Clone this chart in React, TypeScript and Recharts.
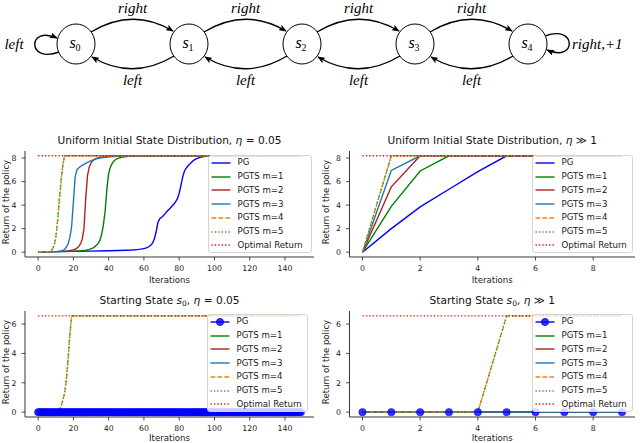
import React from 'react';
import { LineChart, Line, XAxis, YAxis, Legend } from 'recharts';

type Pt = [number, number];

// ---------- Series names ----------
const SERIES_NAMES = ['PG', 'PGTS m=1', 'PGTS m=2', 'PGTS m=3', 'PGTS m=4', 'PGTS m=5', 'Optimal Return'];

// ---------- Uniform initial state, eta = 0.05 (iterations 0..149) ----------
const UL_PG: Pt[] = [[0,0.03],[10,0.05],[20,0.07],[30,0.09],[40,0.12],[45,0.14],[50,0.17],[53,0.19],[55,0.21],[57,0.24],[59,0.28],[60,0.31],[61,0.35],[62,0.4],[63,0.48],[64,0.6],[65,0.8],[66,1.15],[67,1.8],[68,2.55],[69,2.85],[70,2.97],[71,3.1],[72,3.28],[73,3.45],[74,3.6],[75,3.75],[76,3.92],[77,4.1],[78,4.3],[79,4.55],[80,5.0],[81,5.7],[82,6.4],[83,6.9],[84,7.15],[85,7.35],[86,7.5],[87,7.65],[88,7.78],[89,7.88],[90,7.96],[91,8.02],[92,8.07],[93,8.1],[94,8.13],[95,8.15],[96,8.17],[98,8.19],[149,8.19]];
const UL_M1: Pt[] = [[0,0.03],[10,0.05],[20,0.08],[24,0.12],[27,0.17],[29,0.24],[31,0.35],[32,0.45],[33,0.58],[34,0.75],[35,1.0],[36,1.5],[37,2.3],[38,3.5],[39,5.4],[40,6.7],[41,7.25],[42,7.55],[43,7.75],[44,7.88],[45,7.96],[46,8.02],[48,8.09],[50,8.13],[54,8.17],[58,8.19],[149,8.19]];
const UL_M2: Pt[] = [[0,0.03],[10,0.05],[14,0.07],[17,0.11],[19,0.16],[21,0.26],[22,0.34],[23,0.48],[24,0.7],[25,1.1],[26,2.0],[27,4.6],[28,6.5],[29,7.25],[30,7.58],[31,7.78],[32,7.9],[33,7.97],[34,8.02],[36,8.09],[38,8.14],[41,8.17],[45,8.19],[149,8.19]];
const UL_M3: Pt[] = [[0,0.03],[8,0.05],[11,0.07],[13,0.11],[14,0.16],[15,0.25],[16,0.42],[17,0.72],[18,1.25],[19,2.2],[20,4.3],[21,6.4],[22,7.0],[23,7.15],[24,7.28],[25,7.38],[26,7.47],[27,7.55],[28,7.63],[29,7.7],[30,7.77],[31,7.83],[32,7.88],[33,7.93],[34,7.97],[36,8.02],[38,8.06],[41,8.1],[45,8.14],[50,8.17],[56,8.19],[149,8.19]];
const UL_M4: Pt[] = [[0,0.03],[6,0.05],[7,0.1],[8,0.22],[9,0.55],[10,1.2],[11,2.6],[12,4.4],[13,6.0],[14,7.4],[15,8.19],[149,8.19]];
const UL_M5: Pt[] = [[0,0.03],[6,0.05],[7,0.1],[8,0.22],[9,0.55],[10,1.2],[11,2.6],[12,4.4],[13,6.0],[14,7.4],[15,8.19],[149,8.19]];
const UL_OPT: Pt[] = [[0,8.19],[149,8.19]];

// ---------- Uniform initial state, eta >> 1 (iterations 0..9) ----------
const UR_PG: Pt[] = [[0,0],[1,2.0],[2,3.85],[3,5.35],[4,6.85],[5,8.19],[9,8.19]];
const UR_M1: Pt[] = [[0,0],[1,3.9],[2,6.9],[3,8.19],[9,8.19]];
const UR_M2: Pt[] = [[0,0],[1,5.55],[2,8.19],[9,8.19]];
const UR_M3: Pt[] = [[0,0],[1,6.95],[2,8.19],[9,8.19]];
const UR_M4: Pt[] = [[0,0],[1,8.19],[9,8.19]];
const UR_M5: Pt[] = [[0,0],[1,8.19],[9,8.19]];
const UR_OPT: Pt[] = [[0,8.19],[9,8.19]];

// ---------- Starting state s0, eta = 0.05 (iterations 0..149) ----------
const BL_PG_VALUES: number[] = [
  0,0,0,0,0,0,0,0,0,0, 0,0,0,0,0,0,0,0,0,0, 0,0,0,0,0,0,0,0,0,0,
  0,0,0,0,0,0,0,0,0,0, 0,0,0,0,0,0,0,0,0,0, 0,0,0,0,0,0,0,0,0,0,
  0,0,0,0,0,0,0,0,0,0, 0,0,0,0,0,0,0,0,0,0, 0,0,0,0,0,0,0,0,0,0,
  0,0,0,0,0,0,0,0,0,0, 0,0,0,0,0,0,0,0,0,0, 0,0,0,0,0,0,0,0,0,0,
  0,0,0,0,0,0,0,0,0,0, 0,0,0,0,0,0,0,0,0,0, 0,0,0,0,0,0,0,0,0,0,
];
const BL_M1: Pt[] = [[0,0],[149,0]];
const BL_M2: Pt[] = [[0,0],[149,0]];
const BL_M3: Pt[] = [[0,0],[149,0]];
const BL_M4: Pt[] = [[0,0],[11,0],[12,0.1],[13,0.4],[14,0.8],[15,1.3],[16,2.2],[17,3.6],[18,5.3],[19,6.56],[149,6.56]];
const BL_M5: Pt[] = [[0,0],[11,0],[12,0.1],[13,0.4],[14,0.8],[15,1.3],[16,2.2],[17,3.6],[18,5.3],[19,6.56],[149,6.56]];
const BL_OPT: Pt[] = [[0,6.56],[149,6.56]];

// ---------- Starting state s0, eta >> 1 (iterations 0..9) ----------
const BR_PG_VALUES: number[] = [0,0,0,0,0,0,0,0,0,0];
const BR_M1: Pt[] = [[0,0],[9,0]];
const BR_M2: Pt[] = [[0,0],[9,0]];
const BR_M3: Pt[] = [[0,0],[9,0]];
const BR_M4: Pt[] = [[0,0],[4,0],[5,6.56],[9,6.56]];
const BR_M5: Pt[] = [[0,0],[4,0],[5,6.56],[9,6.56]];
const BR_OPT: Pt[] = [[0,6.56],[9,6.56]];

// ---------- Ticks ----------
const X_TICKS_LONG = [0, 20, 40, 60, 80, 100, 120, 140];
const X_TICKS_SHORT = [0, 2, 4, 6, 8];
const Y_TICKS_UNIFORM = [0, 2, 4, 6, 8];
const Y_TICKS_S0 = [0, 2, 4, 6];

// ---------- Styles ----------
const FONT = '"DejaVu Sans", Verdana, sans-serif';
const SERIF = '"Liberation Serif", "DejaVu Serif", serif';
const COLORS = ['#0000ff', '#008000', '#b22222', '#1f77b4', '#ff7f0e', '#2ca02c', '#ff0000'];
const DASHES: (string | undefined)[] = [undefined, undefined, undefined, undefined, '4.8 2.1', '1.3 2.1', '1.3 2.1'];
const TICK_FS = 7.8;
const LABEL_FS = 8.6;
const LEGEND_FS = 8.6;
const TITLE_FS = 10.6;

const toPts = (pts: Pt[]) => pts.map(([x, y]) => ({ x, y }));
const fromValues = (vals: number[]) => vals.map((y, i) => ({ x: i, y }));

type SeriesDef = { name: string; pts: { x: number; y: number }[]; color: string; dash?: string; marker?: boolean };

function makeSeries(ptsList: { x: number; y: number }[][], markerPG: boolean): SeriesDef[] {
  return ptsList.map((pts, i) => ({
    name: SERIES_NAMES[i],
    pts,
    color: COLORS[i],
    dash: DASHES[i],
    marker: markerPG && i === 0,
  }));
}

function LegendBox({ series, width }: { series: SeriesDef[]; width: number }) {
  return (
    <div
      style={{
        width,
        boxSizing: 'border-box',
        background: 'rgba(255,255,255,0.8)',
        border: '1px solid #d4d4d4',
        borderRadius: 3,
        fontFamily: FONT,
        fontSize: LEGEND_FS,
        color: '#1a1a1a',
        paddingLeft: 2,
      }}
    >
      {series.map((s) => (
        <div key={s.name} style={{ display: 'flex', alignItems: 'center', height: 13.75, whiteSpace: 'nowrap' }}>
          <svg width={20} height={10} style={{ display: 'block', flex: 'none' }}>
            <line x1={0.5} x2={19.5} y1={5} y2={5} stroke={s.color} strokeWidth={1.4} strokeDasharray={s.dash} />
            {s.marker && <circle cx={10} cy={5} r={3.6} fill={s.color} fillOpacity={0.8} stroke={s.color} strokeWidth={0.8} />}
          </svg>
          <span style={{ marginLeft: 6.5, lineHeight: '11px' }}>{s.name}</span>
        </div>
      ))}
    </div>
  );
}

type PanelProps = {
  left: number;
  top: number;
  width: number;
  height: number;
  margin: { top: number; right: number; left: number; bottom: number };
  yAxisWidth: number;
  xAxisHeight: number;
  xDomain: [number, number];
  xTicks: number[];
  yDomain: [number, number];
  yTicks: number[];
  series: SeriesDef[];
  legend: { left: number; top: number; width: number };
  title: React.ReactNode;
};

function Panel(p: PanelProps) {
  const plotL = p.margin.left + p.yAxisWidth;
  const plotR = p.width - p.margin.right;
  const plotT = p.margin.top;
  const plotB = p.height - p.margin.bottom - p.xAxisHeight;
  const cx = (plotL + plotR) / 2;
  const cy = (plotT + plotB) / 2;
  const axisStroke = { stroke: '#222', strokeWidth: 0.9 };
  const tickStyle = { fontSize: TICK_FS, fill: '#222', fontFamily: FONT };
  return (
    <div style={{ position: 'absolute', left: p.left, top: p.top, width: p.width, height: p.height }}>
      <div
        style={{
          position: 'absolute',
          left: plotL - 30,
          width: plotR - plotL + 60,
          top: plotT - 18,
          height: 14,
          lineHeight: '14px',
          textAlign: 'center',
          fontFamily: FONT,
          fontSize: TITLE_FS,
          color: '#111',
          whiteSpace: 'nowrap',
          zIndex: 2,
        }}
      >
        {p.title}
      </div>
      <LineChart width={p.width} height={p.height} margin={p.margin}>
        <XAxis
          xAxisId="b"
          dataKey="x"
          type="number"
          domain={p.xDomain}
          ticks={p.xTicks}
          allowDataOverflow
          height={p.xAxisHeight}
          tickSize={3.5}
          tickMargin={4.5}
          tick={tickStyle}
          axisLine={axisStroke}
          tickLine={{ stroke: '#222', strokeWidth: 0.8 }}
          label={() => (
            <text x={cx} y={p.height - p.margin.bottom - 2.5} textAnchor="middle" fontFamily={FONT} fontSize={LABEL_FS} fill="#222">
              Iterations
            </text>
          )}
        />
        <XAxis xAxisId="t" orientation="top" type="number" domain={p.xDomain} allowDataOverflow height={0} tick={false} tickLine={false} axisLine={axisStroke} />
        <YAxis
          yAxisId="l"
          type="number"
          domain={p.yDomain}
          ticks={p.yTicks}
          allowDataOverflow
          width={p.yAxisWidth}
          tickSize={3.5}
          tickMargin={5}
          tick={tickStyle}
          axisLine={axisStroke}
          tickLine={{ stroke: '#222', strokeWidth: 0.8 }}
          label={() => (
            <text
              x={p.margin.left + 5.5}
              y={cy - 2}
              transform={`rotate(-90 ${p.margin.left + 5.5} ${cy - 2})`}
              textAnchor="middle"
              dominantBaseline="central"
              fontFamily={FONT}
              fontSize={LABEL_FS}
              fill="#222"
            >
              Return of the policy
            </text>
          )}
        />
        <YAxis yAxisId="r" orientation="right" type="number" domain={p.yDomain} allowDataOverflow width={0} tick={false} tickLine={false} axisLine={axisStroke} />
        {p.series.map((s) => (
          <Line
            key={s.name}
            xAxisId="b"
            yAxisId="l"
            data={s.pts}
            dataKey="y"
            name={s.name}
            type="linear"
            stroke={s.color}
            strokeWidth={1.4}
            strokeDasharray={s.dash}
            dot={s.marker ? { r: 3.7, fill: s.color, fillOpacity: 0.8, stroke: s.color, strokeWidth: 0.8, strokeOpacity: 0.6 } : false}
            activeDot={false}
            isAnimationActive={false}
          />
        ))}
        <Legend
          layout="horizontal"
          verticalAlign="middle"
          align="center"
          wrapperStyle={{ left: p.legend.left, top: p.legend.top, width: p.legend.width, height: 'auto' }}
          content={() => <LegendBox series={p.series} width={p.legend.width} />}
        />
      </LineChart>
    </div>
  );
}

function Diagram() {
  const cy = 44;
  const rx = 19;
  const ry = 20;
  const xs = [76, 189, 302, 415, 528];
  const labelStyle = { fontFamily: SERIF, fontStyle: 'italic' as const, fontSize: 15, fill: '#000' };
  return (
    <svg width={640} height={92} style={{ position: 'absolute', left: 0, top: 0 }}>
      <defs>
        <marker id="arrowHead" viewBox="0 0 10 8" refX="9" refY="4" markerWidth="8" markerHeight="6.4" markerUnits="userSpaceOnUse" orient="auto">
          <path d="M0,0 L10,4 L0,8 L2.5,4 z" fill="#000" />
        </marker>
      </defs>
      {xs.slice(0, 4).map((x, i) => {
        const nx = xs[i + 1];
        const mid = (x + nx) / 2;
        return (
          <g key={`arcs${i}`}>
            <path d={`M${x + 15},${cy - 12} Q${mid},${cy - 37} ${nx - 16},${cy - 13}`} fill="none" stroke="#000" strokeWidth={1.4} markerEnd="url(#arrowHead)" />
            <path d={`M${nx - 15},${cy + 12} Q${mid},${cy + 37} ${x + 16},${cy + 13}`} fill="none" stroke="#000" strokeWidth={1.4} markerEnd="url(#arrowHead)" />
            <text x={mid} y={13} textAnchor="middle" {...labelStyle}>right</text>
            <text x={mid} y={85} textAnchor="middle" {...labelStyle}>left</text>
          </g>
        );
      })}
      <path d={`M${xs[0] - 17},${cy + 8} C${xs[0] - 49},${cy + 20} ${xs[0] - 49},${cy - 19} ${xs[0] - 19},${cy - 6}`} fill="none" stroke="#000" strokeWidth={1.4} markerEnd="url(#arrowHead)" />
      <path d={`M${xs[4] + 17},${cy - 8} C${xs[4] + 49},${cy - 20} ${xs[4] + 49},${cy + 19} ${xs[4] + 19},${cy + 6}`} fill="none" stroke="#000" strokeWidth={1.4} markerEnd="url(#arrowHead)" />
      <text x={14} y={cy + 5} textAnchor="middle" {...labelStyle}>left</text>
      <text x={572} y={cy + 5} textAnchor="start" {...labelStyle}>right,+1</text>
      {xs.map((x, i) => (
        <g key={`s${i}`}>
          <ellipse cx={x} cy={cy} rx={rx} ry={ry} fill="#fff" stroke="#000" strokeWidth={1} />
          <text x={x - 1} y={cy + 4} textAnchor="middle" fontFamily={SERIF} fontStyle="italic" fontSize={16} fill="#000">
            s<tspan fontSize={10} fontStyle="normal" dy={3}>{i}</tspan>
          </text>
        </g>
      ))}
    </svg>
  );
}

const Eta = () => <span style={{ fontStyle: 'italic' }}>η</span>;
const S0 = () => (
  <span>
    <span style={{ fontStyle: 'italic' }}>s</span>
    <span style={{ fontSize: 7.5, position: 'relative', top: 2 }}>0</span>
  </span>
);

export default function App() {
  const ul = makeSeries([UL_PG, UL_M1, UL_M2, UL_M3, UL_M4, UL_M5, UL_OPT].map(toPts), false);
  const ur = makeSeries([UR_PG, UR_M1, UR_M2, UR_M3, UR_M4, UR_M5, UR_OPT].map(toPts), false);
  const bl = makeSeries([fromValues(BL_PG_VALUES), ...[BL_M1, BL_M2, BL_M3, BL_M4, BL_M5, BL_OPT].map(toPts)], true);
  const br = makeSeries([fromValues(BR_PG_VALUES), ...[BR_M1, BR_M2, BR_M3, BR_M4, BR_M5, BR_OPT].map(toPts)], true);

  return (
    <div style={{ position: 'absolute', left: 0, top: 0, width: 640, height: 443, background: '#fff', overflow: 'hidden' }}>
      <Diagram />
      <Panel
        left={0}
        top={130}
        width={320}
        height={155}
        margin={{ top: 21, right: 6, left: 0, bottom: 0 }}
        yAxisWidth={25}
        xAxisHeight={28}
        xDomain={[-7.45, 156.45]}
        xTicks={X_TICKS_LONG}
        yDomain={[-0.41, 8.6]}
        yTicks={Y_TICKS_UNIFORM}
        series={ul}
        legend={{ left: 208, top: 25, width: 104 }}
        title={<>Uniform Initial State Distribution, <Eta /> = 0.05</>}
      />
      <Panel
        left={320}
        top={130}
        width={320}
        height={155}
        margin={{ top: 21, right: 5, left: 0, bottom: 0 }}
        yAxisWidth={29.5}
        xAxisHeight={28}
        xDomain={[-0.45, 9.45]}
        xTicks={X_TICKS_SHORT}
        yDomain={[-0.41, 8.6]}
        yTicks={Y_TICKS_UNIFORM}
        series={ur}
        legend={{ left: 212, top: 25, width: 101 }}
        title={<>Uniform Initial State Distribution, <Eta /> ≫ 1</>}
      />
      <Panel
        left={0}
        top={290}
        width={320}
        height={153}
        margin={{ top: 21, right: 6, left: 0, bottom: 0 }}
        yAxisWidth={25}
        xAxisHeight={26}
        xDomain={[-7.45, 156.45]}
        xTicks={X_TICKS_LONG}
        yDomain={[-0.33, 6.89]}
        yTicks={Y_TICKS_S0}
        series={bl}
        legend={{ left: 207, top: 24, width: 101 }}
        title={<>Starting State <S0 />, <Eta /> = 0.05</>}
      />
      <Panel
        left={320}
        top={290}
        width={320}
        height={153}
        margin={{ top: 21, right: 5, left: 0, bottom: 0 }}
        yAxisWidth={29.5}
        xAxisHeight={26}
        xDomain={[-0.45, 9.45]}
        xTicks={X_TICKS_SHORT}
        yDomain={[-0.33, 6.89]}
        yTicks={Y_TICKS_S0}
        series={br}
        legend={{ left: 212, top: 24, width: 101 }}
        title={<>Starting State <S0 />, <Eta /> ≫ 1</>}
      />
    </div>
  );
}
